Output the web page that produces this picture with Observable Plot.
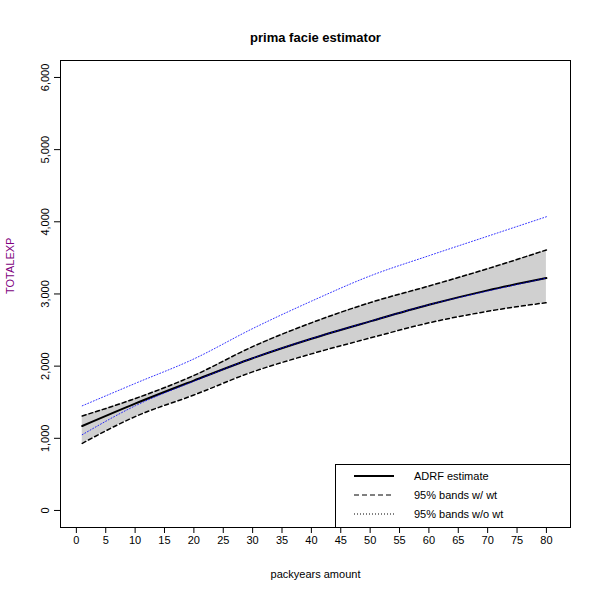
<!DOCTYPE html>
<html><head>
<script src="https://cdn.jsdelivr.net/npm/d3@7"></script>
<script src="https://cdn.jsdelivr.net/npm/@observablehq/plot@0.6"></script>
<style>
body{margin:0;background:#fff;font-family:Arial,"Liberation Sans",sans-serif}
#wrap{position:relative;width:600px;height:600px}
#legend{position:absolute;left:335px;top:464px;width:234px;height:62px;border:1px solid #000;background:#fff;font-size:11px}
#legend div{height:16px;display:flex;align-items:center;margin-top:3px}
#legend svg{margin:0 20px 0 18px}
</style>
</head><body>
<div id="wrap"><div id="chart"></div>
<div id="legend">
<div><svg width="40" height="4"><line x1="0" x2="40" y1="2" y2="2" stroke="#000" stroke-width="2"/></svg>ADRF estimate</div>
<div><svg width="40" height="4"><line x1="0" x2="40" y1="2" y2="2" stroke="#000" stroke-dasharray="5,3"/></svg>95% bands w/ wt</div>
<div><svg width="40" height="4"><line x1="0" x2="40" y1="2" y2="2" stroke="#000" stroke-dasharray="1,2"/></svg>95% bands w/o wt</div>
</div></div>
<script>
const packyears = [1, 10, 20, 30, 40, 50, 60, 70, 80]
const adrf = [1170, 1480, 1800, 2110, 2380, 2620, 2850, 3050, 3220]
const lowWt = [930, 1300, 1600, 1920, 2170, 2390, 2600, 2760, 2880]
const highWt = [1310, 1550, 1870, 2270, 2600, 2880, 3110, 3350, 3610]
const lowNoWt = [1050, 1450, 1790, 2110, 2380, 2620, 2850, 3040, 3220]
const highNoWt = [1450, 1760, 2100, 2520, 2900, 3250, 3530, 3800, 4070]

const data = packyears.map((x, i) => ({x, adrf: adrf[i], lo: lowWt[i], hi: highWt[i], lo2: lowNoWt[i], hi2: highNoWt[i]}))
const curve = 'monotone-x'

let chart = Plot.plot({
  width: 600, height: 600,
  marginLeft: 60, marginRight: 30, marginTop: 60, marginBottom: 73,
  style: {fontSize: '11px', fontFamily: 'Arial, Liberation Sans, sans-serif', color: '#000'},
  x: {domain: [-2.7, 84.1]},
  y: {domain: [-236, 6235]},
  marks: [
    Plot.frame(),
    Plot.areaY(data, {x: 'x', y1: 'lo', y2: 'hi', fill: '#d0d0d0', curve}),
    Plot.lineY(data, {x: 'x', y: 'lo', stroke: '#000', strokeDasharray: '4,3', curve}),
    Plot.lineY(data, {x: 'x', y: 'hi', stroke: '#000', strokeDasharray: '4,3', curve}),
    Plot.lineY(data, {x: 'x', y: 'adrf', stroke: '#000', strokeWidth: 2, curve}),
    Plot.lineY(data, {x: 'x', y: 'lo2', stroke: 'blue', strokeWidth: 0.8, strokeDasharray: '1,2', curve}),
    Plot.lineY(data, {x: 'x', y: 'hi2', stroke: 'blue', strokeWidth: 0.8, strokeDasharray: '1,2', curve}),
    Plot.axisX({ticks: d3.range(0, 81, 5), tickSize: 6, tickFormat: d => d, label: 'packyears amount', labelAnchor: 'center', labelArrow: 'none', labelOffset: 50}),
    Plot.axisY({ticks: d3.range(0, 6001, 1000), tickSize: 6, tickFormat: d => d, tickRotate: -90, tickPadding: 6, label: null}),
    Plot.text(['TOTALEXP'], {frameAnchor: 'left', dx: -50, rotate: -90, fill: '#800080', text: d => d}),
    Plot.text(['prima facie estimator'], {frameAnchor: 'top', dy: -28, fontWeight: 'bold', fontSize: 13, text: d => d})
  ]
})
d3.select('#chart').append(() => chart)
</script>
</body></html>
